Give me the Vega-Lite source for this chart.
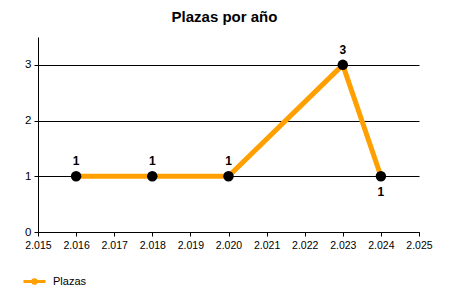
{
  "$schema": "https://vega.github.io/schema/vega-lite/v6.json",
  "autosize": "none",
  "width": 381,
  "height": 195,
  "padding": {"left": 38, "top": 37, "right": 31, "bottom": 68},
  "background": "white",
  "config": {
    "view": {"stroke": null},
    "font": "Liberation Sans",
    "axis": {"labelFont": "Liberation Sans", "labelColor": "#000000", "domainColor": "#000000", "tickColor": "#000000", "labelFontSize": 11}
  },
  "title": {"text": "Plazas por año", "fontSize": 15, "fontWeight": "bold", "font": "Liberation Sans", "color": "#000000", "offset": 12, "dx": -4},
  "data": {"values": [
    {"anio": 2016, "plazas": 1, "serie": "Plazas"},
    {"anio": 2018, "plazas": 1, "serie": "Plazas"},
    {"anio": 2020, "plazas": 1, "serie": "Plazas"},
    {"anio": 2023, "plazas": 3, "serie": "Plazas"},
    {"anio": 2024, "plazas": 1, "serie": "Plazas"}
  ]},
  "encoding": {
    "x": {"field": "anio", "type": "quantitative", "scale": {"domain": [2015, 2025], "nice": false, "zero": false},
      "axis": {"title": null, "grid": false, "values": [2015,2016,2017,2018,2019,2020,2021,2022,2023,2024,2025], "labelExpr": "substring(toString(datum.value),0,1) + '.' + substring(toString(datum.value),1)", "labelOverlap": false, "labelFlush": false, "labelBound": false, "tickSize": 4, "labelPadding": 4, "labelFontSize": 10.5}},
    "y": {"field": "plazas", "type": "quantitative", "scale": {"domain": [0, 3.5], "nice": false},
      "axis": {"title": null, "values": [0,1,2,3], "grid": true, "gridColor": "#000000", "gridOpacity": 1, "gridWidth": 1, "tickSize": 4, "labelFontSize": 11.5, "labelPadding": 3, "labelBound": false, "labelFlush": false}}
  },
  "layer": [
    {
      "mark": {"type": "line", "strokeWidth": 5, "strokeCap": "butt"},
      "encoding": {
        "color": {"field": "serie", "type": "nominal", "scale": {"range": ["#FFA000"]},
          "legend": {"title": null, "orient": "none", "legendX": -16, "legendY": 232, "symbolType": "M-0.17,0 A0.17,0.17 0 1,1 0.17,0 A0.17,0.17 0 1,1 -0.17,0 Z M-1,0 L1,0", "symbolFillColor": "#000000", "symbolStrokeColor": "#FFA000", "symbolStrokeWidth": 3, "symbolSize": 484, "labelFontSize": 11, "labelFont": "Liberation Sans", "labelColor": "#000000", "labelOffset": 6}}
      }
    },
    {
      "mark": {"type": "point", "filled": true, "color": "#000000", "size": 110, "opacity": 1}
    },
    {
      "transform": [{"filter": "datum.anio < 2024"}],
      "mark": {"type": "text", "dy": -15, "fontWeight": "bold", "fontSize": 12, "baseline": "middle", "color": "#000000"},
      "encoding": {"text": {"field": "plazas", "type": "quantitative"}}
    },
    {
      "transform": [{"filter": "datum.anio == 2024"}],
      "mark": {"type": "text", "dy": 16, "fontWeight": "bold", "fontSize": 12, "baseline": "middle", "color": "#000000"},
      "encoding": {"text": {"field": "plazas", "type": "quantitative"}}
    }
  ]
}
